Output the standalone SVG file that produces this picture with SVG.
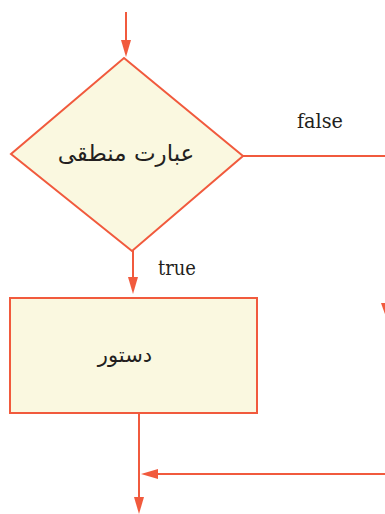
<svg xmlns="http://www.w3.org/2000/svg" width="385" height="514" viewBox="0 0 385 514">
<style>
.ln{stroke:#F15A3D;stroke-width:2;fill:none}
.shape{fill:#FAF8E0;stroke:#F15A3D;stroke-width:2}
.ah{fill:#F15A3D;stroke:none}
.fa{fill:#231F20;text-anchor:middle}
</style>
<rect width="385" height="514" fill="#FFFFFF"/>
<g id="connectors">
<line class="ln" x1="126" y1="12" x2="126" y2="42"/>
<polygon class="ah" points="121,40 131,40 126,57"/>
<line class="ln" x1="243" y1="156" x2="385" y2="156"/>
<line class="ln" x1="133" y1="250" x2="133" y2="279"/>
<polygon class="ah" points="128,277 138,277 133,294"/>
<line class="ln" x1="139" y1="413" x2="139" y2="500"/>
<polygon class="ah" points="134,497 144,497 139,514"/>
<line class="ln" x1="156" y1="474" x2="385" y2="474"/>
<polygon class="ah" points="158,469 158,479 141,474"/>
<polygon class="ah" points="381,303 391,303 386,317"/>
<text x="297" y="128" font-family="DejaVu Serif, serif" font-size="21" fill="#231F20" textLength="46" lengthAdjust="spacingAndGlyphs">false</text>
<text x="158" y="275" font-family="DejaVu Serif, serif" font-size="21" fill="#231F20" textLength="38" lengthAdjust="spacingAndGlyphs">true</text>
</g>
<g id="decision">
<polygon class="shape" points="124,58 243,156 132,251 11,154"/>
<text class="fa" x="126" y="161" direction="rtl" font-family="DejaVu Sans, sans-serif" font-size="23">عبارت منطقی</text>
</g>
<g id="statement">
<rect class="shape" x="10" y="298" width="247" height="115"/>
<text class="fa" x="125" y="362" direction="rtl" font-family="DejaVu Sans, sans-serif" font-size="21">دستور</text>
</g>
</svg>
